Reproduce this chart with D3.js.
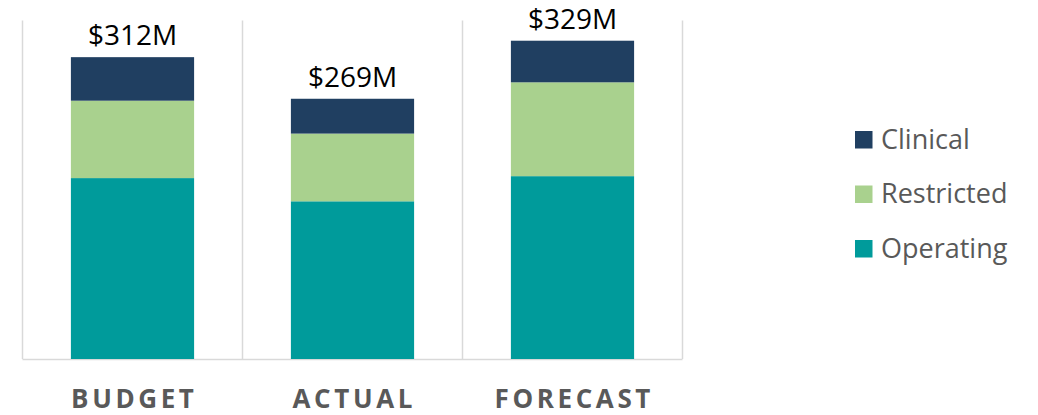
<!DOCTYPE html>
<html>
<head>
<meta charset="utf-8">
<script src="https://cdn.jsdelivr.net/npm/d3@7/dist/d3.min.js"></script>
<style>
  html, body { margin: 0; padding: 0; background: #fff; }
  svg { display: block; }
</style>
</head>
<body>
<svg id="chart" width="1038" height="415"></svg>
<script>
// Funding by source, in $M
const categories = ["BUDGET", "ACTUAL", "FORECAST"];
const seriesNames = ["Operating", "Restricted", "Clinical"];
const operating  = [187, 163, 189];
const restricted = [80, 70, 97];
const clinical   = [45, 36, 43];
const totalLabels = ["$312M", "$269M", "$329M"];
const legendOrder = ["Clinical", "Restricted", "Operating"];

const colors = {
  Operating: "#009b9b",
  Restricted: "#a9d18e",
  Clinical: "#203f61"
};

const svg = d3.select("#chart");

const x = d3.scaleBand().domain(categories).range([22.5, 682.5]).padding(0);
const y = d3.scaleLinear().domain([0, 350]).range([359, 20.4]);

const barW = x.bandwidth() * 0.56;

// stacked data
const rows = categories.map((c, i) => ({
  cat: c,
  Operating: operating[i],
  Restricted: restricted[i],
  Clinical: clinical[i]
}));
const stack = d3.stack().keys(seriesNames)(rows);

// vertical separators between categories
const grid = svg.append("g");
const edges = [0, 1, 2, 3].map(i => i === 3 ? x.range()[1] : x(categories[i]));
grid.selectAll("line.sep").data(edges).join("line")
  .attr("x1", d => d).attr("x2", d => d)
  .attr("y1", y(350)).attr("y2", y(0))
  .attr("stroke", "#d9d9d9").attr("stroke-width", 1.5);
grid.append("line")
  .attr("x1", x.range()[0]).attr("x2", x.range()[1])
  .attr("y1", y(0) + 0.5).attr("y2", y(0) + 0.5)
  .attr("stroke", "#d9d9d9").attr("stroke-width", 1.5);

// bars
const barsG = svg.append("g");
stack.forEach(layer => {
  barsG.selectAll(null).data(layer).join("rect")
    .attr("x", d => x(d.data.cat) + (x.bandwidth() - barW) / 2)
    .attr("width", barW)
    .attr("y", d => y(d[1]))
    .attr("height", d => y(d[0]) - y(d[1]))
    .attr("fill", colors[layer.key]);
});

// total labels above bars
const totals = categories.map((c, i) => operating[i] + restricted[i] + clinical[i]);
svg.append("g").selectAll("text").data(categories).join("text")
  .attr("x", c => x(c) + x.bandwidth() / 2)
  .attr("y", (c, i) => y(totals[i]) - 12)
  .attr("text-anchor", "middle")
  .attr("font-family", "'Open Sans', sans-serif")
  .attr("font-size", 28)
  .attr("fill", "#000")
  .text((c, i) => totalLabels[i]);

// category labels
const spacing = 3.6;
svg.append("g").selectAll("text").data(categories).join("text")
  .attr("x", c => x(c) + x.bandwidth() / 2 + spacing / 2)
  .attr("y", 407.5)
  .attr("text-anchor", "middle")
  .attr("font-family", "'Open Sans', sans-serif")
  .attr("font-weight", "bold")
  .attr("font-size", 26)
  .attr("letter-spacing", spacing)
  .attr("fill", "#595959")
  .text(c => c);

// legend
const legend = svg.append("g").attr("transform", "translate(855,131)");
const item = legend.selectAll("g").data(legendOrder).join("g")
  .attr("transform", (d, i) => `translate(0,${i * 54.5})`);
item.append("rect")
  .attr("width", 17.5).attr("height", 17.5)
  .attr("fill", d => colors[d]);
item.append("text")
  .attr("x", 26).attr("y", 17.5)
  .attr("font-family", "'Open Sans', sans-serif")
  .attr("font-size", 27)
  .attr("fill", "#595959")
  .text(d => d);
</script>
</body>
</html>
